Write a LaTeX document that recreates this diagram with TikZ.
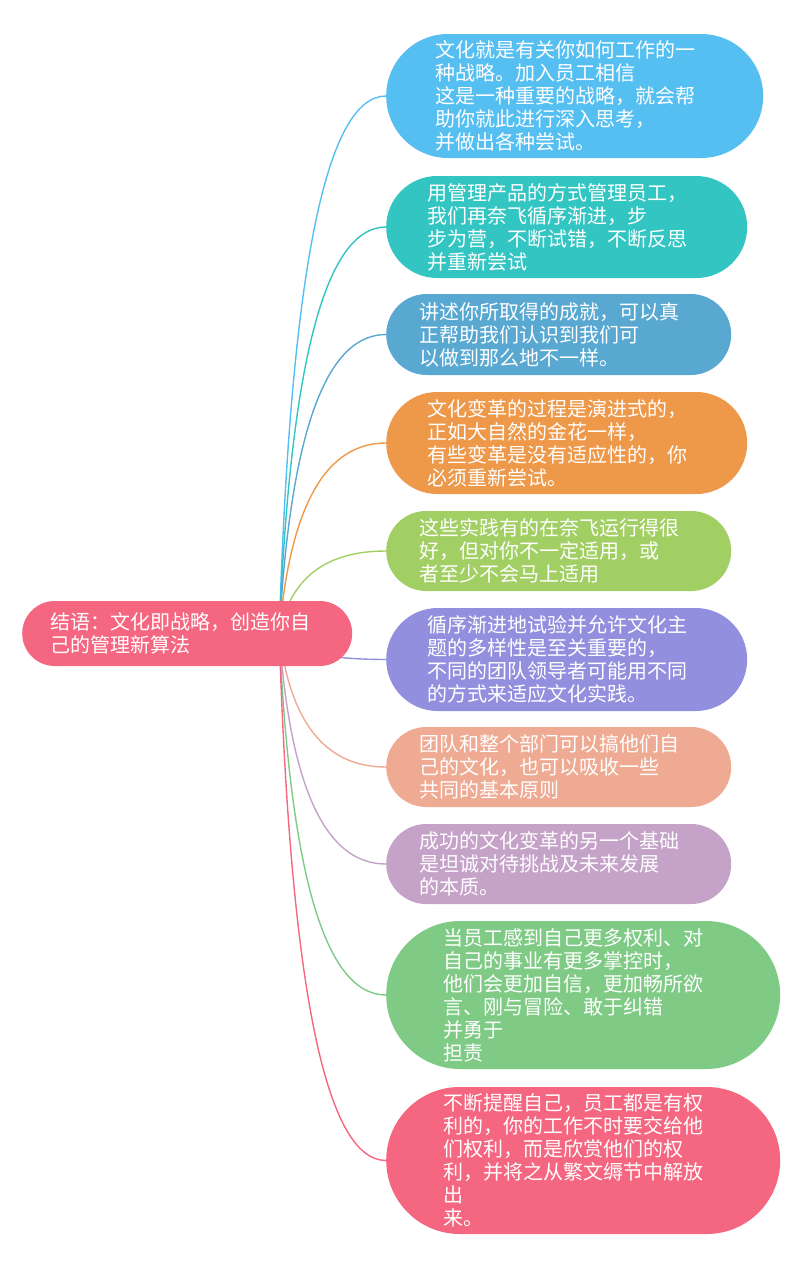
\documentclass[tikz,border=0pt]{standalone}
\usepackage{fontspec}
\newfontfamily\cjk{Noto Sans CJK SC}
\usetikzlibrary{calc,backgrounds}

\definecolor{cSky}{RGB}{86,191,241}
\definecolor{cTeal}{RGB}{51,197,194}
\definecolor{cSteel}{RGB}{88,168,209}
\definecolor{cOrange}{RGB}{238,152,74}
\definecolor{cLime}{RGB}{162,207,99}
\definecolor{cViolet}{RGB}{146,144,222}
\definecolor{cSalmon}{RGB}{239,170,147}
\definecolor{cMauve}{RGB}{197,162,200}
\definecolor{cGreen}{RGB}{127,203,133}
\definecolor{cRose}{RGB}{245,102,128}

\begin{document}
\begin{tikzpicture}[x=1pt, y=-1pt,
  pill/.style n args={3}{fill=#1, minimum width=#2, minimum height=#3,
    rounded corners=#3/2, anchor=west, inner sep=0pt, text=white,
    text width=279pt, align=left, font=\cjk\fontsize{20}{23}\selectfont},
  link/.style={line width=1.4pt}]
  \useasboundingbox (0,0) rectangle (800,1267);

  % central topic
  \node[pill={cRose}{330pt}{65pt}, text width=274pt] (root) at (22,633.5)
    {结语：文化即战略，创造你自\\己的管理新算法};
  \coordinate (hub) at ($(root.center)+(92,0)$);

  % branches
  \node[pill={cSky}{377pt}{124pt}] (b1) at (386,96)
    {文化就是有关你如何工作的一\\种战略。加入员工相信\\这是一种重要的战略，就会帮\\助你就此进行深入思考，\\并做出各种尝试。};
  \node[pill={cTeal}{361pt}{102pt}] (b2) at (386,227)
    {用管理产品的方式管理员工，\\我们再奈飞循序渐进，步\\步为营，不断试错，不断反思\\并重新尝试};
  \node[pill={cSteel}{345pt}{81pt}] (b3) at (386,334.5)
    {讲述你所取得的成就，可以真\\正帮助我们认识到我们可\\以做到那么地不一样。};
  \node[pill={cOrange}{361pt}{102pt}] (b4) at (386,443)
    {文化变革的过程是演进式的，\\正如大自然的金花一样，\\有些变革是没有适应性的，你\\必须重新尝试。};
  \node[pill={cLime}{345pt}{80pt}] (b5) at (386,551)
    {这些实践有的在奈飞运行得很\\好，但对你不一定适用，或\\者至少不会马上适用};
  \node[pill={cViolet}{361pt}{103pt}] (b6) at (386,659.5)
    {循序渐进地试验并允许文化主\\题的多样性是至关重要的，\\不同的团队领导者可能用不同\\的方式来适应文化实践。};
  \node[pill={cSalmon}{345pt}{80pt}] (b7) at (386,767)
    {团队和整个部门可以搞他们自\\己的文化，也可以吸收一些\\共同的基本原则};
  \node[pill={cMauve}{345pt}{80pt}] (b8) at (386,864)
    {成功的文化变革的另一个基础\\是坦诚对待挑战及未来发展\\的本质。};
  \node[pill={cGreen}{394pt}{148pt}] (b9) at (386,995)
    {当员工感到自己更多权利、对\\自己的事业有更多掌控时，\\他们会更加自信，更加畅所欲\\言、刚与冒险、敢于纠错\\并勇于\\担责};
  \node[pill={cRose}{394pt}{147pt}] (b10) at (386,1160.5)
    {不断提醒自己，员工都是有权\\利的，你的工作不时要交给他\\们权利，而是欣赏他们的权\\利，并将之从繁文缛节中解放\\出\\来。};

  \begin{pgfonlayer}{background}
    \foreach \b/\c in {b1/cSky, b2/cTeal, b3/cSteel, b4/cOrange, b5/cLime,
        b6/cViolet, b7/cSalmon, b8/cMauve, b9/cGreen, b10/cRose}
      \draw[link, draw=\c] (hub)
        .. controls ($(hub)!.67!(hub |- \b.west)+(11,0)$)
        and ($(\b.west)!.67!(hub |- \b.west)+(11,0)$) .. (\b.west);
  \end{pgfonlayer}
\end{tikzpicture}
\end{document}
